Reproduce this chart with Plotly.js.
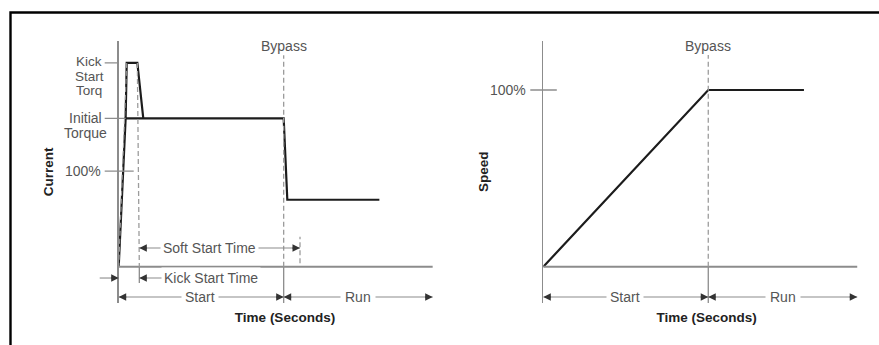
<!DOCTYPE html>
<html>
<head>
<meta charset="utf-8">
<script src="https://cdn.plot.ly/plotly-3.0.1.min.js"></script>
<style>html,body{margin:0;padding:0;background:#fff}#chart{width:879px;height:345px}</style>
</head>
<body>
<div id="chart"></div>
<script>
// ---------- data ----------
// Current chart: time in arbitrary seconds (bypass at 10), current in % of full load
const currentTime = [0, 0.42, 10, 10.22, 15.8];
const currentPct  = [0, 155, 155, 70, 70];
const kickTime    = [0.42, 0.485, 1.13, 1.49];
const kickPct     = [155, 213, 213, 155];
// Speed chart
const speedTime = [0, 10, 15.8];
const speedPct  = [0, 100, 100];
// event times
const bypassTime    = 10;
const kickStartEnd  = 1.25;
const softStartEnd  = 10.99;
const timeEnd       = 19.03;
// y tick labels (current chart)
const currentTickVals = [213, 155, 100];
const currentTickText = [['Kick', 'Start', 'Torq'], ['Initial', 'Torque'], ['100%']];
const speedTickVals = [100];
const speedTickText = ['100%'];
const phaseLabels = ['Start', 'Run'];

// ---------- styling ----------
const FONT = 'Liberation Sans, Arial, Helvetica, sans-serif';
const TXT = '#555';
const AX = '#8c8c8c';
const DASH = '#9c9c9c';
const HEAD = '#333';
const LDOM = [118.7 / 879, 451.3 / 879];
const RDOM = [543.3 / 879, 870.1 / 879];
const YDOM = [42 / 345, 304.3 / 345];
const LYR = [-37.9, 236.2];
const RYR = [-20.5, 127.9];

const traces = [
  {x: currentTime, y: currentPct, xaxis: 'x', yaxis: 'y', mode: 'lines',
   line: {color: '#1c1c1c', width: 2.2}, hoverinfo: 'skip', showlegend: false},
  {x: kickTime, y: kickPct, xaxis: 'x', yaxis: 'y', mode: 'lines',
   line: {color: '#1c1c1c', width: 2.2}, hoverinfo: 'skip', showlegend: false},
  {x: speedTime, y: speedPct, xaxis: 'x2', yaxis: 'y2', mode: 'lines',
   line: {color: '#1c1c1c', width: 2.2}, hoverinfo: 'skip', showlegend: false}
];

const shapes = [];
const ann = [];
function seg(xref, yref, x0, y0, x1, y1, color, width, dash) {
  shapes.push({type: 'line', xref: xref, yref: yref, x0: x0, y0: y0, x1: x1, y1: y1,
    line: {color: color, width: width, dash: dash || 'solid'}});
}
function head(xref, yref, x, y, dir) { // dir: +1 points right, -1 points left
  ann.push({xref: xref, yref: yref, x: x, y: y, ax: -dir * 9, ay: 0, text: '',
    showarrow: true, arrowhead: 2, arrowsize: 1.25, arrowwidth: 1.2, arrowcolor: HEAD, standoff: 0});
}
function label(xref, yref, x, y, text, opts) {
  ann.push(Object.assign({xref: xref, yref: yref, x: x, y: y, text: text, showarrow: false,
    font: {family: FONT, size: 14, color: TXT}, xanchor: 'center', yanchor: 'middle'}, opts || {}));
}
function tickLine(dom0, yref, y, off0, off1) {
  shapes.push({type: 'line', xref: 'paper', yref: yref, xsizemode: 'pixel', xanchor: dom0,
    x0: off0, x1: off1, y0: y, y1: y, line: {color: AX, width: 1.3}});
}

// frame (top and left border of the figure box)
shapes.push({type: 'path', xref: 'paper', yref: 'paper',
  path: 'M' + (10.5 / 879) + ',0 L' + (10.5 / 879) + ',' + (1 - 12.5 / 345) + ' L1,' + (1 - 12.5 / 345),
  line: {color: '#000', width: 2.4}});

// ----- left chart -----
seg('x', 'y', 0, 0, timeEnd, 0, AX, 1.8);
seg('x', 'y', bypassTime, 0, bypassTime, 221, DASH, 1.3, '5px,3px');
seg('x', 'y', bypassTime, LYR[0], bypassTime, 0, AX, 1.3);
seg('x', 'y', kickTime[2], kickPct[2], kickStartEnd, 0, DASH, 1.3, '5px,3px');
seg('x', 'y', kickStartEnd, -17, kickStartEnd, 0, AX, 1.3);
seg('x', 'y', kickTime[1], kickPct[1], 0, 0, DASH, 1.1, '5px,3px');
seg('x', 'y', softStartEnd, 3.6, softStartEnd, 31.4, DASH, 1.3, '5px,3px');

// y tick labels with leader lines
tickLine(LDOM[0], 'y', currentTickVals[0], -14, 0);
tickLine(LDOM[0], 'y', currentTickVals[1], -14, 7);
tickLine(LDOM[0], 'y', currentTickVals[2], -14, 15);
currentTickText[0].forEach(function (t, i) {
  label('x', 'y', 0, currentTickVals[0], t,
    {xshift: -29.5, yshift: 1 - 14.5 * i, font: {family: FONT, size: 13.5, color: TXT}});
});
currentTickText[1].forEach(function (t, i) {
  label('x', 'y', 0, currentTickVals[1], t, {xshift: -33.5, yshift: -15 * i});
});
label('x', 'y', 0, currentTickVals[2], currentTickText[2][0], {xanchor: 'right', xshift: -15.5});

label('x', 'y', bypassTime, 230.6, 'Bypass');

// Soft Start Time row
const softRow = 19.5;
seg('x', 'y', kickStartEnd, softRow, softStartEnd, softRow, AX, 1.1);
head('x', 'y', kickStartEnd, softRow, -1);
head('x', 'y', softStartEnd, softRow, 1);
label('x', 'y', 5.5, softRow, 'Soft Start Time', {bgcolor: '#fff', borderpad: 2});

// Kick Start Time row
const kickRow = -11.8;
shapes.push({type: 'line', xref: 'paper', yref: 'y', xsizemode: 'pixel', xanchor: LDOM[0],
  x0: -19, x1: 0, y0: kickRow, y1: kickRow, line: {color: AX, width: 1.1}});
head('x', 'y', 0, kickRow, 1);
seg('x', 'y', kickStartEnd, kickRow, 4, kickRow, AX, 1.1);
head('x', 'y', kickStartEnd, kickRow, -1);
label('x', 'y', 5.6, kickRow, 'Kick Start Time', {bgcolor: '#fff', borderpad: 2});

// Start / Run row
const phaseRowL = -31.7;
seg('x', 'y', 0, phaseRowL, timeEnd, phaseRowL, AX, 1.1);
head('x', 'y', 0, phaseRowL, -1);
head('x', 'y', bypassTime, phaseRowL, 1);
head('x', 'y', bypassTime, phaseRowL, -1);
head('x', 'y', timeEnd, phaseRowL, 1);
label('x', 'y', 4.95, phaseRowL, phaseLabels[0], {bgcolor: '#fff', borderpad: 3});
label('x', 'y', 14.5, phaseRowL, phaseLabels[1], {bgcolor: '#fff', borderpad: 4});

// ----- right chart -----
seg('x2', 'y2', 0, 0, timeEnd, 0, AX, 1.8);
seg('x2', 'y2', bypassTime, 0, bypassTime, 119.8, DASH, 1.3, '5px,3px');
seg('x2', 'y2', bypassTime, RYR[0], bypassTime, 0, AX, 1.3);
tickLine(RDOM[0], 'y2', speedTickVals[0], -13, 13.5);
label('x2', 'y2', 0, speedTickVals[0], speedTickText[0], {xanchor: 'right', xshift: -15.5});
label('x2', 'y2', bypassTime, 124.9, 'Bypass');
const phaseRowR = -17.1;
seg('x2', 'y2', 0, phaseRowR, timeEnd, phaseRowR, AX, 1.1);
head('x2', 'y2', 0, phaseRowR, -1);
head('x2', 'y2', bypassTime, phaseRowR, 1);
head('x2', 'y2', bypassTime, phaseRowR, -1);
head('x2', 'y2', timeEnd, phaseRowR, 1);
label('x2', 'y2', 4.95, phaseRowR, phaseLabels[0], {bgcolor: '#fff', borderpad: 3});
label('x2', 'y2', 14.55, phaseRowR, phaseLabels[1], {bgcolor: '#fff', borderpad: 4});

const titleFont = {family: FONT, size: 13.5, color: '#222', weight: 'bold'};
function xax(dom, rng) {
  return {domain: dom, range: rng, showgrid: false, zeroline: false, showline: false,
    showticklabels: false, ticks: '', fixedrange: true,
    title: {text: 'Time (Seconds)', font: titleFont, standoff: 9}};
}
function yax(dom, rng, title, anchor, standoff) {
  return {domain: dom, range: rng, anchor: anchor, showgrid: false, zeroline: false,
    showline: true, linecolor: AX, linewidth: 1.6, showticklabels: false, ticks: '', fixedrange: true,
    title: {text: title, font: titleFont, standoff: standoff}};
}

const layout = {
  width: 879, height: 345,
  margin: {l: 0, r: 0, t: 0, b: 0},
  paper_bgcolor: '#fff', plot_bgcolor: 'rgba(0,0,0,0)',
  showlegend: false,
  xaxis: Object.assign(xax(LDOM, [0, 20.16]), {anchor: 'y'}),
  yaxis: yax(YDOM, LYR, 'Current', 'x', 60),
  xaxis2: Object.assign(xax(RDOM, [0, 19.81]), {anchor: 'y2'}),
  yaxis2: yax(YDOM, RYR, 'Speed', 'x2', 50),
  shapes: shapes,
  annotations: ann
};

Plotly.newPlot('chart', traces, layout, {staticPlot: true, displayModeBar: false});
</script>
</body>
</html>
